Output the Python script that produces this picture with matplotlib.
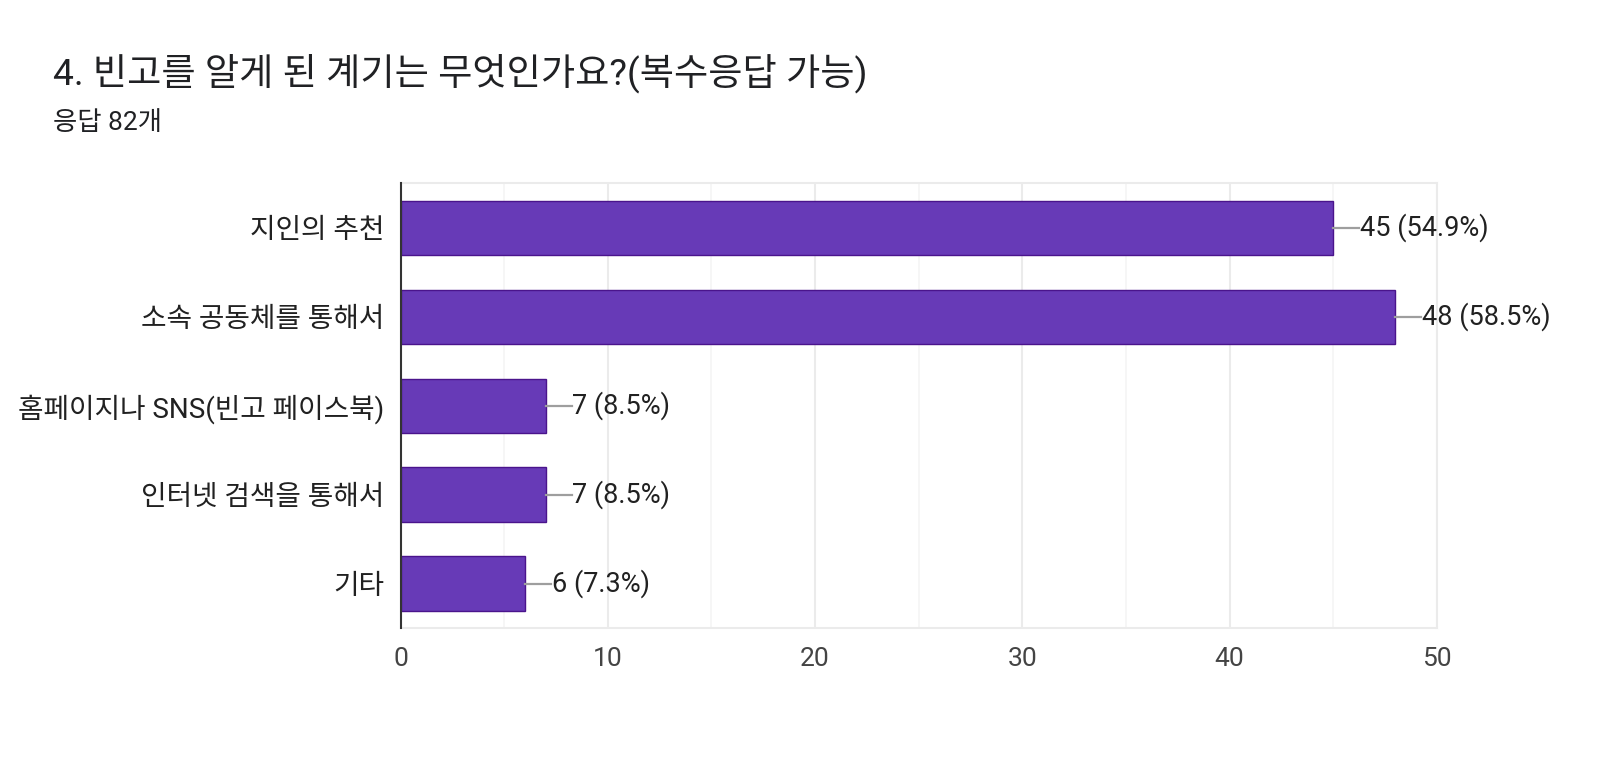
import matplotlib
matplotlib.use("Agg")
import matplotlib.pyplot as plt
from matplotlib.ticker import MultipleLocator

plt.rcParams['font.family'] = ['Roboto', 'Noto Sans CJK KR', 'DejaVu Sans']

# data
categories = ["지인의 추천", "소속 공동체를 통해서", "홈페이지나 SNS(빈고 페이스북)",
              "인터넷 검색을 통해서", "기타"]
counts = [45, 48, 7, 7, 6]
percents = ["54.9%", "58.5%", "8.5%", "8.5%", "7.3%"]
x_ticks = [0, 10, 20, 30, 40, 50]

bar_color = "#673ab7"
edge_color = "#4a148c"

fig = plt.figure(figsize=(16, 7.6), dpi=100)
ax = fig.add_axes([0.2504, 0.1737, 0.6476, 0.5851])

y = list(range(len(categories)))
ax.barh(y, counts, height=0.61, color=bar_color, edgecolor=edge_color, linewidth=1, zorder=3)

# leader line + value label
lead = 1.25
for yi, c, p in zip(y, counts, percents):
    ax.plot([c, c + lead], [yi, yi], color="#9e9e9e", lw=1.6, zorder=3, clip_on=False)
    ax.text(c + lead + 0.03, yi, f"{c} ({p})", va="center", ha="left",
            fontsize=19.5, color="#212121")

ax.set_ylim(len(categories) - 0.5, -0.5)
ax.set_xlim(0, 50)
ax.set_yticks(y)
ax.set_yticklabels(categories, fontsize=20, color="#212121")
ax.set_xticks(x_ticks)
ax.set_xticklabels([str(t) for t in x_ticks], fontsize=19, color="#444444")
ax.xaxis.set_minor_locator(MultipleLocator(5))
ax.tick_params(axis="both", which="both", length=0)
ax.tick_params(axis="y", pad=12)
ax.tick_params(axis="x", pad=14)

ax.grid(axis="x", which="major", color="#ebebeb", lw=1.5, zorder=0)
ax.grid(axis="x", which="minor", color="#f5f5f5", lw=1.2, zorder=0)

for s in ["top", "right", "bottom"]:
    ax.spines[s].set_color("#ebebeb")
    ax.spines[s].set_linewidth(1.5)
ax.spines["left"].set_color("#333333")
ax.spines["left"].set_linewidth(1.5)
ax.spines["left"].set_zorder(4)

fig.text(0.033, 0.903, "4. 빈고를 알게 된 계기는 무엇인가요?(복수응답 가능)",
         fontsize=26.8, color="#202124", va="center", ha="left")
fig.text(0.033, 0.838, "응답 82개", fontsize=19, color="#202124", va="center", ha="left")

fig.savefig("out.png", dpi=100)
